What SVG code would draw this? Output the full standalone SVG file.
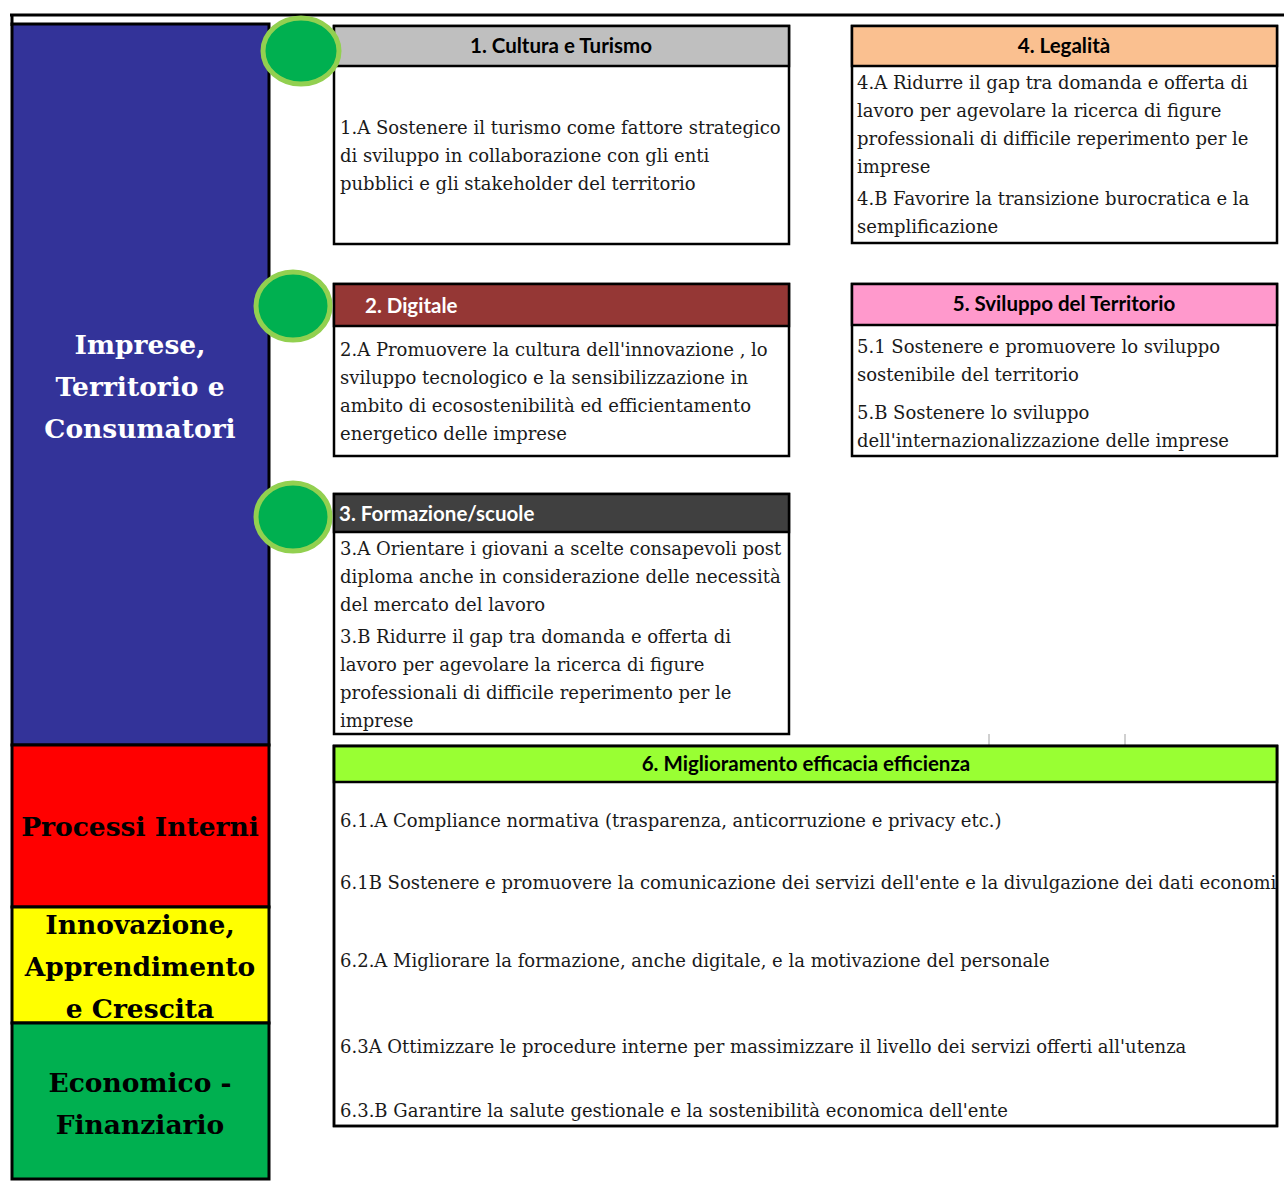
<svg xmlns="http://www.w3.org/2000/svg" width="1284" height="1181" viewBox="0 0 1284 1181">
<defs>
<style>
.frame{stroke:#000;stroke-width:3;}
.box{fill:#fff;stroke:#000;stroke-width:2.5;}
.hdr{stroke:#000;stroke-width:2.5;}
.body{font-family:"DejaVu Serif","Liberation Serif",serif;font-size:18px;fill:#1a1a1a;}
.ht{font-family:Lato,"Liberation Sans",sans-serif;font-size:20.5px;font-weight:bold;}
.side{font-family:"DejaVu Serif","Liberation Serif",serif;font-size:26.5px;font-weight:bold;text-anchor:middle;}
.dot{fill:#00B050;stroke:#92D050;stroke-width:5;}
.tick{stroke:#d0d0d0;stroke-width:2;}
</style>
<clipPath id="c6"><rect x="334" y="746" width="943" height="380"/></clipPath>
</defs>
<rect width="1284" height="1181" fill="#fff"/>
<line x1="10" y1="15" x2="1284" y2="15" class="frame"/>
<line x1="12" y1="14" x2="12" y2="26" class="frame"/>

<g id="perspective-imprese">
<rect x="12" y="24" width="257" height="721" fill="#333399" class="frame"/>
<text class="side" fill="#fff" x="140" y="354">Imprese,</text>
<text class="side" fill="#fff" x="140" y="396">Territorio e</text>
<text class="side" fill="#fff" x="140" y="438">Consumatori</text>
</g>
<g id="perspective-processi">
<rect x="12" y="745" width="257" height="162" fill="#FF0000" class="frame"/>
<text class="side" fill="#000" x="140" y="836">Processi Interni</text>
</g>
<g id="perspective-innovazione">
<rect x="12" y="907" width="257" height="116" fill="#FFFF00" class="frame"/>
<text class="side" fill="#000" x="140" y="934">Innovazione,</text>
<text class="side" fill="#000" x="140" y="976">Apprendimento</text>
<text class="side" fill="#000" x="140" y="1018">e Crescita</text>
</g>
<g id="perspective-economico">
<rect x="12" y="1023" width="257" height="156" fill="#00B050" class="frame"/>
<text class="side" fill="#000" x="140" y="1092">Economico -</text>
<text class="side" fill="#000" x="140" y="1134">Finanziario</text>
</g>

<g id="ticks">
<line x1="989" y1="734" x2="989" y2="745" class="tick"/>
<line x1="1125" y1="734" x2="1125" y2="745" class="tick"/>
</g>

<g id="box1">
<rect x="334" y="26" width="455" height="218" class="box"/>
<rect x="334" y="26" width="455" height="40" fill="#BFBFBF" class="hdr"/>
<text class="ht" x="561" y="53" text-anchor="middle" fill="#000">1. Cultura e Turismo</text>
<text class="body" x="340" y="134">1.A Sostenere il turismo come fattore strategico</text>
<text class="body" x="340" y="162">di sviluppo in collaborazione con gli enti</text>
<text class="body" x="340" y="190">pubblici e gli stakeholder del territorio</text>
</g>

<g id="box4">
<rect x="852" y="26" width="425" height="217" class="box"/>
<rect x="852" y="26" width="425" height="40" fill="#FAC090" class="hdr"/>
<text class="ht" x="1064" y="53" text-anchor="middle" fill="#000">4. Legalità</text>
<text class="body" x="857" y="89">4.A Ridurre il gap tra domanda e offerta di</text>
<text class="body" x="857" y="117">lavoro per agevolare la ricerca di figure</text>
<text class="body" x="857" y="145">professionali di difficile reperimento per le</text>
<text class="body" x="857" y="173">imprese</text>
<text class="body" x="857" y="205">4.B Favorire la transizione burocratica e la</text>
<text class="body" x="857" y="233">semplificazione</text>
</g>

<g id="box2">
<rect x="334" y="284" width="455" height="172" class="box"/>
<rect x="334" y="284" width="455" height="42" fill="#953735" class="hdr"/>
<text class="ht" x="365" y="313" fill="#fff">2. Digitale</text>
<text class="body" x="340" y="356">2.A Promuovere la cultura dell'innovazione , lo</text>
<text class="body" x="340" y="384">sviluppo tecnologico e la sensibilizzazione in</text>
<text class="body" x="340" y="412">ambito di ecosostenibilità ed efficientamento</text>
<text class="body" x="340" y="440">energetico delle imprese</text>
</g>

<g id="box5">
<rect x="852" y="284" width="425" height="172" class="box"/>
<rect x="852" y="284" width="425" height="41" fill="#FF99CC" class="hdr"/>
<text class="ht" x="1064" y="311" text-anchor="middle" fill="#000">5. Sviluppo del Territorio</text>
<text class="body" x="857" y="353">5.1 Sostenere e promuovere lo sviluppo</text>
<text class="body" x="857" y="381">sostenibile del territorio</text>
<text class="body" x="857" y="419">5.B Sostenere lo sviluppo</text>
<text class="body" x="857" y="447">dell'internazionalizzazione delle imprese</text>
</g>

<g id="box3">
<rect x="334" y="494" width="455" height="240" class="box"/>
<rect x="334" y="494" width="455" height="38" fill="#404040" class="hdr"/>
<text class="ht" x="339" y="521" fill="#fff">3. Formazione/scuole</text>
<text class="body" x="340" y="555">3.A Orientare i giovani a scelte consapevoli post</text>
<text class="body" x="340" y="583">diploma anche in considerazione delle necessità</text>
<text class="body" x="340" y="611">del mercato del lavoro</text>
<text class="body" x="340" y="643">3.B Ridurre il gap tra domanda e offerta di</text>
<text class="body" x="340" y="671">lavoro per agevolare la ricerca di figure</text>
<text class="body" x="340" y="699">professionali di difficile reperimento per le</text>
<text class="body" x="340" y="727">imprese</text>
</g>

<g id="box6">
<rect x="334" y="746" width="943" height="380" class="box"/>
<rect x="334" y="746" width="943" height="36" fill="#99FF33" class="hdr"/>
<text class="ht" x="806" y="771" text-anchor="middle" fill="#000">6. Miglioramento efficacia efficienza</text>
<g clip-path="url(#c6)">
<text class="body" x="340" y="827">6.1.A Compliance normativa (trasparenza, anticorruzione e privacy etc.)</text>
<text class="body" x="340" y="889">6.1B Sostenere e promuovere la comunicazione dei servizi dell'ente e la divulgazione dei dati economici</text>
<text class="body" x="340" y="967">6.2.A Migliorare la formazione, anche digitale, e la motivazione del personale</text>
<text class="body" x="340" y="1053">6.3A Ottimizzare le procedure interne per massimizzare il livello dei servizi offerti all'utenza</text>
<text class="body" x="340" y="1117">6.3.B Garantire la salute gestionale e la sostenibilità economica dell'ente</text>
</g>
<rect x="334" y="746" width="943" height="380" fill="none" stroke="#000" stroke-width="2.5"/>
</g>

<g id="connectors"></g>

<g id="markers">
<ellipse id="dot1" cx="301" cy="51" rx="38" ry="33" class="dot"/>
<ellipse id="dot2" cx="293" cy="306" rx="37" ry="34" class="dot"/>
<ellipse id="dot3" cx="293" cy="517" rx="37" ry="34" class="dot"/>
</g>
</svg>
